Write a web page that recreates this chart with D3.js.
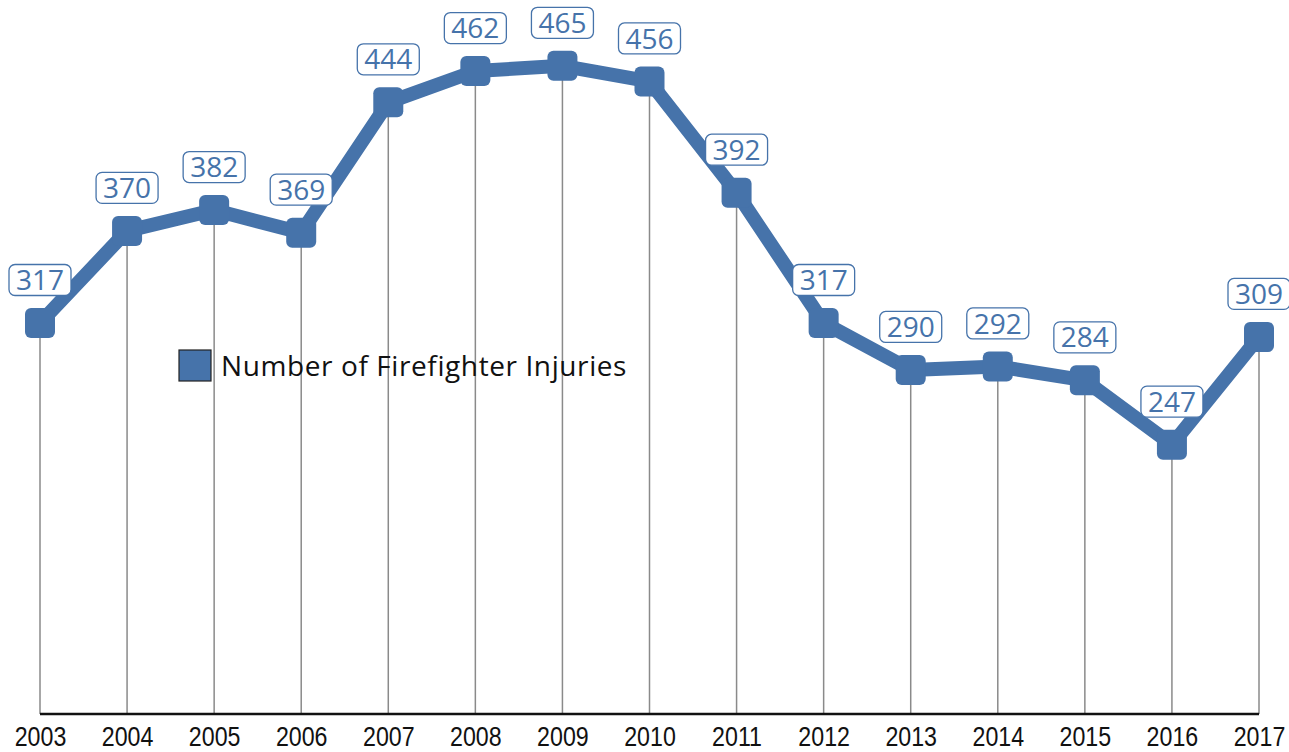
<!DOCTYPE html>
<html>
<head>
<meta charset="utf-8">
<script src="https://cdn.jsdelivr.net/npm/d3@7"></script>
<style>
  body { margin: 0; background: #fff; }
  svg { display: block; }
</style>
</head>
<body>
<svg width="1289" height="752"></svg>
<script>
"use strict";
// data
const years = [2003, 2004, 2005, 2006, 2007, 2008, 2009, 2010, 2011, 2012, 2013, 2014, 2015, 2016, 2017];
const injuries = [317, 370, 382, 369, 444, 462, 465, 456, 392, 317, 290, 292, 284, 247, 309];
const seriesName = "Number of Firefighter Injuries";

const blue = "#4673aa";
const svg = d3.select("svg");

const x = d3.scalePoint().domain(years).range([40, 1259]);
const y = d3.scaleLinear().domain([92, 500]).range([714, 5]);
const baseY = 714;

const pts = years.map((yr, i) => ({year: yr, value: injuries[i]}));

// drop lines
svg.append("g").selectAll("line").data(pts).join("line")
  .attr("x1", d => x(d.year)).attr("x2", d => x(d.year))
  .attr("y1", d => y(d.value)).attr("y2", baseY)
  .attr("stroke", "#8a8a8a").attr("stroke-width", 1.5);

// bottom axis
const xAxis = svg.append("g").attr("transform", "translate(0," + baseY + ")")
  .call(d3.axisBottom(x).tickSize(0).tickPadding(0));
xAxis.select(".domain").attr("d", "M" + x(years[0]) + ",0H" + x(years[years.length - 1]))
  .attr("stroke", "#111").attr("stroke-width", 2.5);
// condensed year labels
xAxis.selectAll(".tick text")
  .attr("y", 0).attr("dy", 0)
  .attr("transform", "translate(0,32) scale(0.86,1)")
  .attr("font-family", "'Liberation Sans', Arial, sans-serif")
  .attr("font-size", 27).attr("fill", "#111");

// series line
svg.append("path").datum(pts)
  .attr("fill", "none").attr("stroke", blue).attr("stroke-width", 14)
  .attr("stroke-linejoin", "round")
  .attr("d", d3.line().x(d => x(d.year)).y(d => y(d.value)));

// markers
svg.append("g").selectAll("rect").data(pts).join("rect")
  .attr("x", d => x(d.year) - 15).attr("y", d => y(d.value) - 15)
  .attr("width", 30).attr("height", 30).attr("rx", 6)
  .attr("fill", blue);

// value labels
const lab = svg.append("g").selectAll("g").data(pts).join("g")
  .attr("transform", d => "translate(" + x(d.year) + "," + (y(d.value) - 43) + ")");
lab.append("rect")
  .attr("x", -31).attr("y", -15.5).attr("width", 62).attr("height", 31).attr("rx", 6)
  .attr("fill", "#fff").attr("stroke", blue).attr("stroke-width", 1.3);
lab.append("text")
  .attr("text-anchor", "middle").attr("dy", "0.36em")
  .attr("font-family", "'Open Sans', 'Noto Sans', sans-serif")
  .attr("font-size", 28).attr("fill", blue)
  .text(d => d.value);

// legend
const leg = svg.append("g").attr("transform", "translate(179,350)");
leg.append("rect").attr("width", 32).attr("height", 31)
  .attr("fill", blue).attr("stroke", "#222").attr("stroke-width", 1.2);
leg.append("text").attr("x", 42).attr("y", 16).attr("dy", "0.35em")
  .attr("font-family", "'Open Sans', 'Noto Sans', sans-serif")
  .attr("font-size", 28).attr("letter-spacing", 0.6).attr("fill", "#111")
  .text(seriesName);
</script>
</body>
</html>
